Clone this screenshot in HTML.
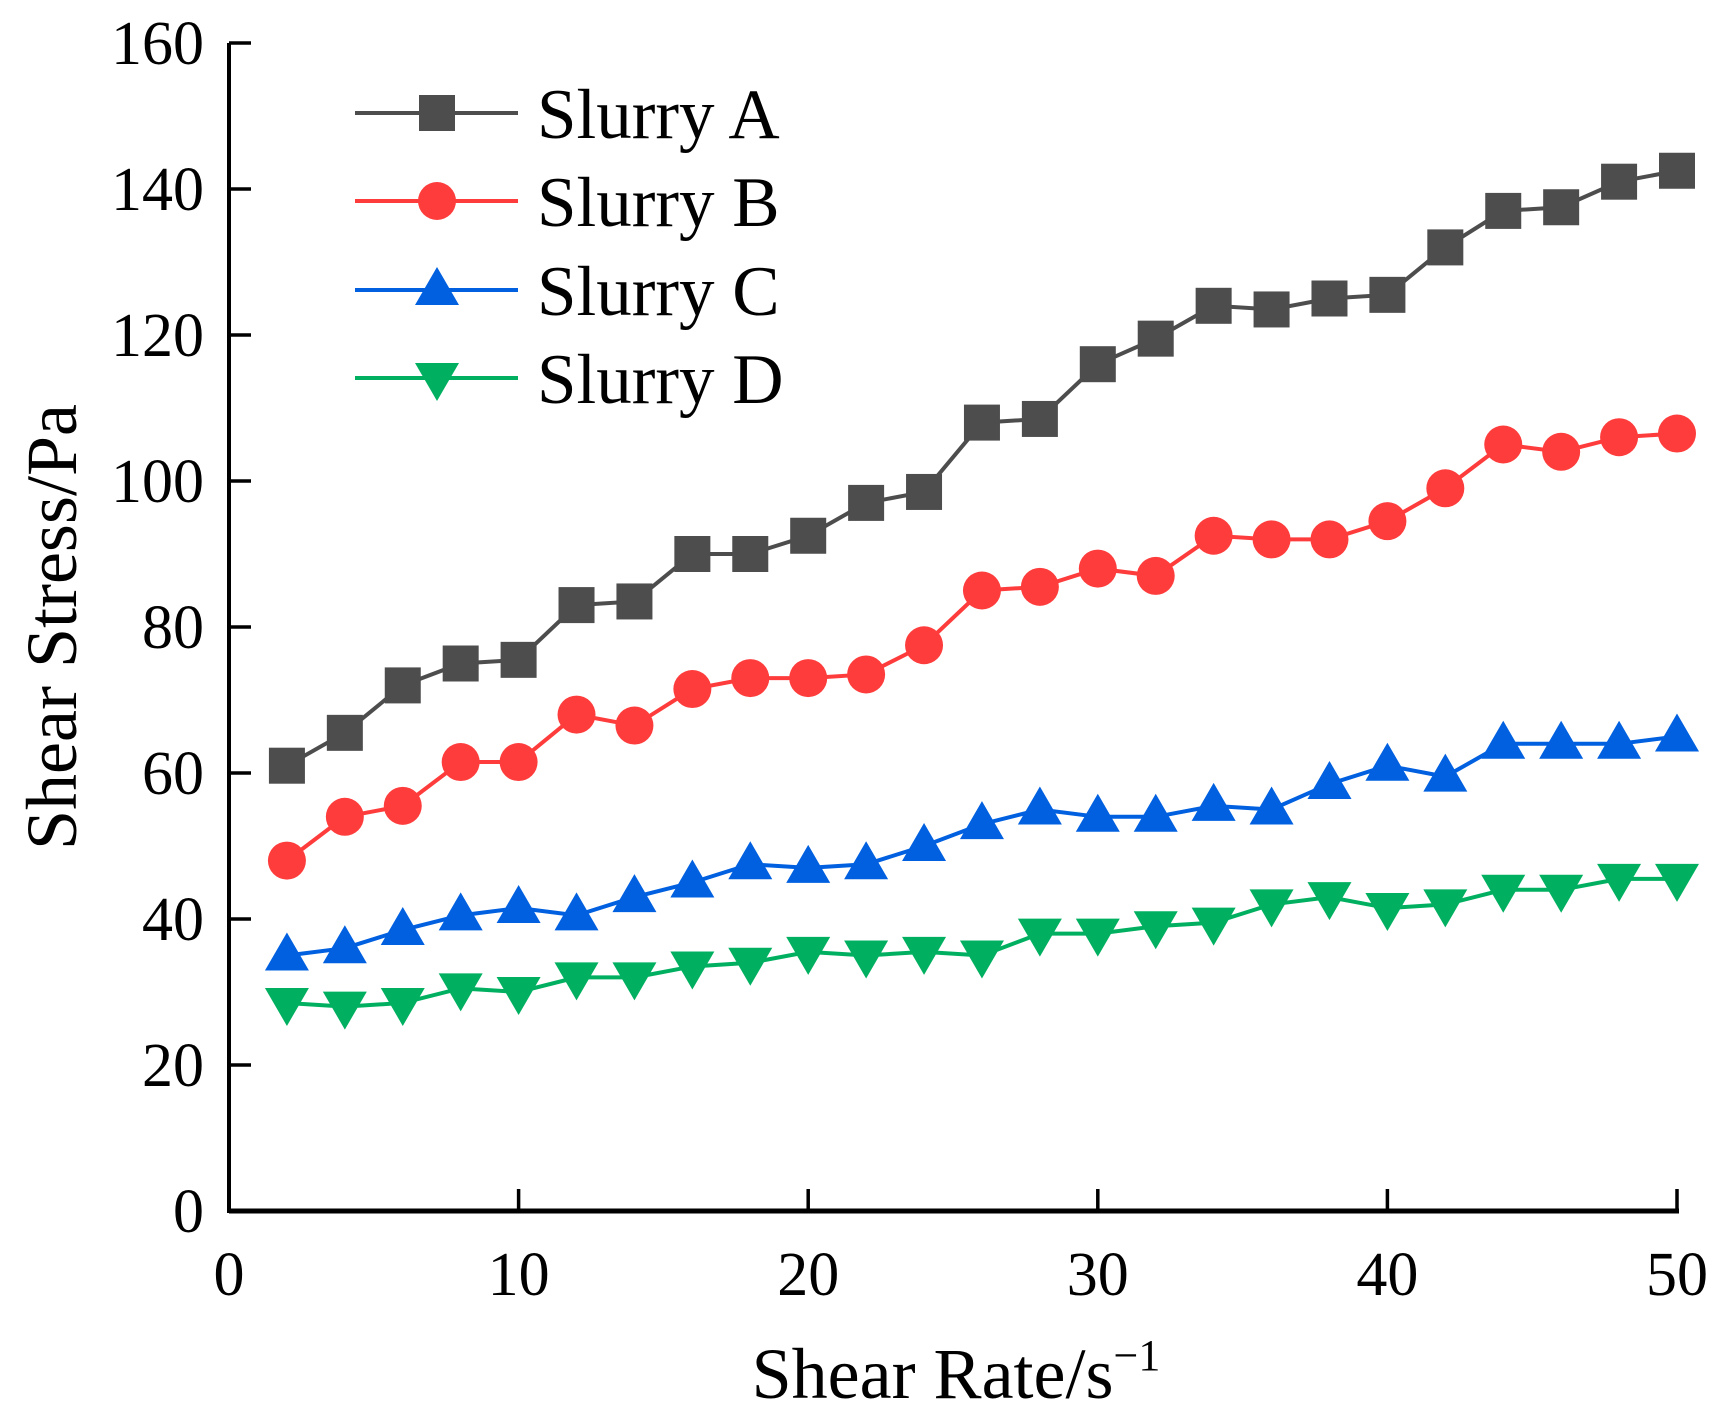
<!DOCTYPE html>
<html><head><meta charset="utf-8"><style>
html,body{margin:0;padding:0;background:#fff;}
svg{display:block;font-family:"Liberation Serif",serif;}
</style></head><body>
<svg id="chart" width="1729" height="1426" viewBox="0 0 1729 1426" xmlns="http://www.w3.org/2000/svg">
<g id="axes"></g>
<g id="series"></g>
<g id="legend"></g>
<text x="0" y="0" transform="translate(76,627) rotate(-90)" text-anchor="middle" font-size="72">Shear Stress/Pa</text>
<text x="956" y="1398" text-anchor="middle" font-size="72">Shear Rate/s<tspan font-size="44" dy="-28">−1</tspan></text>
</svg>
<script>
const xs=[2,4,6,8,10,12,14,16,18,20,22,24,26,28,30,32,34,36,38,40,42,44,46,48,50];
const seriesA=[61,65.5,72,75,75.5,83,83.5,90,90,92.5,97,98.5,108,108.5,116,119.5,124,123.5,125,125.5,132,137,137.5,141,142.5];
const seriesB=[48,54,55.5,61.5,61.5,68,66.5,71.5,73,73,73.5,77.5,85,85.5,88,87,92.5,92,92,94.5,99,105,104,106,106.5];
const seriesC=[35,36,38.5,40.5,41.5,40.5,43,45,47.5,47,47.5,50,53,55,54,54,55.5,55,58.5,61,59.5,64,64,64,65];
const seriesD=[28.5,28,28.5,30.5,30,32,32,33.5,34,35.5,35,35.5,35,38,38,39,39.5,42,43,41.5,42,44,44,45.5,45.5];
const xTicks=[0,10,20,30,40,50];
const yTicks=[0,20,40,60,80,100,120,140,160];
const seriesNames=["Slurry A","Slurry B","Slurry C","Slurry D"];

const NS="http://www.w3.org/2000/svg";
const X0=229,X1=1677,Y0=1211,Y1=43;
function sx(v){return X0+(v-0)/(50-0)*(X1-X0);}
function sy(v){return Y0-(v-0)/(160-0)*(Y0-Y1);}
function mk(tag,attrs,parent){const e=document.createElementNS(NS,tag);for(const k in attrs)e.setAttribute(k,attrs[k]);parent.appendChild(e);return e;}

const axes=document.getElementById('axes');
let l=mk('line',{x1:X0,y1:Y0,x2:X1+2,y2:Y0,stroke:'#000','stroke-width':5},axes);


l=mk('line',{x1:X0,y1:Y0+2,x2:X0,y2:Y1,stroke:'#000','stroke-width':4},axes);


xTicks.forEach(t=>{
  const x=sx(t);
  const tk=mk('line',{x1:x,y1:Y0,x2:x,y2:Y0-22,stroke:'#000','stroke-width':3.5},axes);
  
  
  const tx=mk('text',{x:x,y:Y0+84,'text-anchor':'middle','font-size':62},axes);
  tx.textContent=t;
  
  
});
yTicks.forEach(t=>{
  const y=sy(t);
  const tk=mk('line',{x1:X0,y1:y,x2:X0+22,y2:y,stroke:'#000','stroke-width':3.5},axes);
  
  
  const tx=mk('text',{x:204,y:y+21,'text-anchor':'end','font-size':62},axes);
  tx.textContent=t;
  
  
});

const colors=['#4d4d4d','#ff3c3c','#0060e0','#00b060'];
const shapes=['square','circle','up','down'];
function marker(g,shape,x,y,c){
  let e;
  if(shape==='square')e=mk('rect',{x:x-18,y:y-18,width:36,height:36,fill:c},g);
  else if(shape==='circle')e=mk('ellipse',{cx:x,cy:y,rx:19,ry:19,fill:c},g);
  else if(shape==='up')e=mk('polygon',{points:`${x},${y-23} ${x+22},${y+15} ${x-22},${y+15}`,fill:c},g);
  else e=mk('polygon',{points:`${x},${y+23} ${x+22},${y-15} ${x-22},${y-15}`,fill:c},g);
  return e;
}
const ser=document.getElementById('series');
[seriesA,seriesB,seriesC,seriesD].forEach((vals,i)=>{
  const g=mk('g',{},ser);
  
  
  const pts=vals.map((v,j)=>sx(xs[j])+','+sy(v)).join(' ');
  const pl=mk('polyline',{points:pts,fill:'none',stroke:colors[i],'stroke-width':4},g);
  
  
  vals.forEach((v,j)=>{
    const m=marker(g,shapes[i],sx(xs[j]),sy(v),colors[i]);
    
    
  });
});

const leg=document.getElementById('legend');
const legY=[113,201,290,378];
seriesNames.forEach((n,i)=>{
  const g=mk('g',{},leg);
  
  
  mk('line',{x1:355,y1:legY[i],x2:518,y2:legY[i],stroke:colors[i],'stroke-width':4},g);
  marker(g,shapes[i],437,legY[i],colors[i]);
  const t=mk('text',{x:537,y:legY[i]+25,'font-size':71},g);
  t.textContent=n;
});
</script>
</body></html>
